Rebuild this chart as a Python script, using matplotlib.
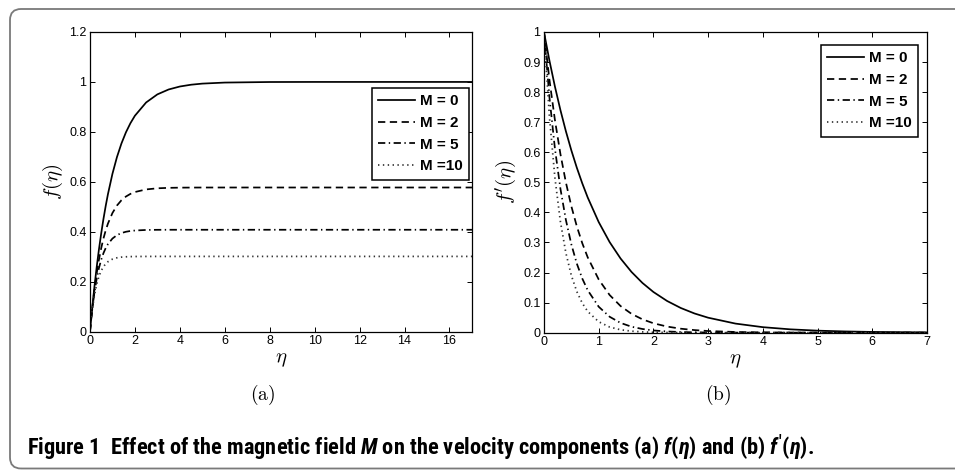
import matplotlib
matplotlib.use('Agg')
import matplotlib.pyplot as plt
from matplotlib.patches import FancyBboxPatch
from matplotlib import font_manager

plt.rcParams['mathtext.fontset'] = 'cm'
plt.rcParams['font.family'] = ['Liberation Sans', 'DejaVu Sans']

# values
eta_a = [0, 0.1, 0.2, 0.3, 0.4, 0.5, 0.6, 0.7, 0.8, 1.0, 1.2, 1.4, 1.6, 1.8, 2.0,
         2.5, 3.0, 3.5, 4.0, 4.5, 5.0, 6.0, 8.0, 10.0, 12.0, 14.0, 17.0]
f_M0 = [0, 0.0952, 0.1813, 0.2592, 0.3297, 0.3935, 0.4512, 0.5034, 0.5507, 0.6321,
        0.6988, 0.7534, 0.7981, 0.8347, 0.8647, 0.9179, 0.9502, 0.9698, 0.9817,
        0.9889, 0.9933, 0.9975, 0.9997, 1.0, 1.0, 1.0, 1.0]
f_M2 = [0, 0.0918, 0.1690, 0.2339, 0.2886, 0.3345, 0.3731, 0.4056, 0.4329, 0.4752,
        0.5051, 0.5263, 0.5412, 0.5518, 0.5593, 0.5697, 0.5742, 0.5760, 0.5768,
        0.5771, 0.5773, 0.5774, 0.5774, 0.5774, 0.5774, 0.5774, 0.5774]
f_M5 = [0, 0.0887, 0.1582, 0.2125, 0.2550, 0.2883, 0.3144, 0.3348, 0.3507, 0.3730,
        0.3867, 0.3950, 0.4002, 0.4033, 0.4052, 0.4074, 0.4080, 0.4082, 0.4082,
        0.4082, 0.4082, 0.4082, 0.4082, 0.4082, 0.4082, 0.4082, 0.4082]
f_M10 = [0, 0.0851, 0.1462, 0.1900, 0.2215, 0.2441, 0.2603, 0.2719, 0.2803, 0.2906,
         0.2959, 0.2986, 0.3000, 0.3007, 0.3011, 0.3014, 0.3015, 0.3015, 0.3015,
         0.3015, 0.3015, 0.3015, 0.3015, 0.3015, 0.3015, 0.3015, 0.3015]

eta_b = [0, 0.1, 0.2, 0.3, 0.4, 0.5, 0.6, 0.7, 0.8, 1.0, 1.2, 1.4, 1.6, 1.8, 2.0,
         2.25, 2.5, 2.75, 3.0, 3.5, 4.0, 4.5, 5.0, 5.5, 6.0, 7.0]
fp_M0 = [1, 0.9048, 0.8187, 0.7408, 0.6703, 0.6065, 0.5488, 0.4966, 0.4493, 0.3679,
         0.3012, 0.2466, 0.2019, 0.1653, 0.1353, 0.1054, 0.0821, 0.0639, 0.0498,
         0.0302, 0.0183, 0.0111, 0.0067, 0.0041, 0.0025, 0.0009]
fp_M2 = [1, 0.8410, 0.7073, 0.5948, 0.5002, 0.4207, 0.3538, 0.2975, 0.2502, 0.1770,
         0.1252, 0.0885, 0.0626, 0.0443, 0.0313, 0.0203, 0.0132, 0.0086, 0.0055,
         0.0023, 0.0010, 0.0004, 0.0002, 0.0001, 0.0, 0.0]
fp_M5 = [1, 0.7827, 0.6126, 0.4795, 0.3753, 0.2938, 0.2299, 0.1800, 0.1409, 0.0863,
         0.0529, 0.0324, 0.0198, 0.0122, 0.0074, 0.0040, 0.0022, 0.0012, 0.0006,
         0.0002, 0.0001, 0.0, 0.0, 0.0, 0.0, 0.0]
fp_M10 = [1, 0.7177, 0.5151, 0.3697, 0.2653, 0.1904, 0.1367, 0.0981, 0.0704, 0.0363,
          0.0187, 0.0096, 0.0050, 0.0026, 0.0013, 0.0006, 0.0003, 0.0001, 0.0,
          0.0, 0.0, 0.0, 0.0, 0.0, 0.0, 0.0]

labels = ['M = 0', 'M = 2', 'M = 5', 'M =10']
styles = [dict(ls='-'), dict(ls=(0, (4.2, 2.6))), dict(ls=(0, (4.2, 2.0, 0.8, 2.0))),
          dict(ls=(0, (0.8, 2.0)), color='#333333')]

# a narrow bold face for the caption, if one is installed
names = {f.name for f in font_manager.fontManager.ttflist}
cap_font = 'DejaVu Sans'
for cand in ['Liberation Sans Narrow', 'Roboto Condensed', 'Open Sans Condensed',
             'Noto Sans Condensed', 'DejaVu Sans Condensed']:
    if cand in names:
        cap_font = cand
        break
plt.rcParams['mathtext.it'] = cap_font + ':italic:bold'
plt.rcParams['mathtext.rm'] = cap_font + ':bold'
plt.rcParams['mathtext.bf'] = cap_font + ':bold'

fig = plt.figure(figsize=(9.55, 4.71), dpi=100)

# rounded frame around the figure (open on the right, like the page crop)
frame = FancyBboxPatch((0.10, 0.025), 10.2, 4.595, boxstyle='round,pad=0,rounding_size=0.11',
                       transform=fig.dpi_scale_trans, fc='none', ec='#7a7a7a', lw=1.3)
fig.patches.append(frame)

ax1 = fig.add_axes([0.0942, 0.2957, 0.4, 0.6364])
ax2 = fig.add_axes([0.5696, 0.2937, 0.4011, 0.6384])


def style_axes(ax):
    ax.tick_params(direction='in', top=True, right=True, length=3.5, width=0.7,
                   labelsize=9, pad=2.5)
    for s in ax.spines.values():
        s.set_linewidth(0.9)


for ys, lab, st in zip([f_M0, f_M2, f_M5, f_M10], labels, styles):
    kw = dict(color='black', lw=1.25)
    kw.update(st)
    ax1.plot(eta_a, ys, label=lab, **kw)
ax1.set_xlim(0, 17)
ax1.set_ylim(0, 1.2)
ax1.set_xticks(range(0, 17, 2))
ax1.set_yticks([0, 0.2, 0.4, 0.6, 0.8, 1.0, 1.2])
ax1.set_yticklabels(['0', '0.2', '0.4', '0.6', '0.8', '1', '1.2'])
style_axes(ax1)
ax1.set_xlabel(r'$\eta$', fontsize=15)
ax1.set_ylabel(r'$f(\eta)$', fontsize=15)
ax1.xaxis.set_label_coords(0.5, -0.06)
ax1.yaxis.set_label_coords(-0.066, 0.5)

for ys, lab, st in zip([fp_M0, fp_M2, fp_M5, fp_M10], labels, styles):
    kw = dict(color='black', lw=1.25)
    kw.update(st)
    ax2.plot(eta_b, ys, label=lab, **kw)
ax2.set_xlim(0, 7)
ax2.set_ylim(0, 1)
ax2.set_xticks(range(0, 8))
ax2.set_yticks([i / 10 for i in range(11)])
ax2.set_yticklabels(['0'] + ['0.%d' % i for i in range(1, 10)] + ['1'])
style_axes(ax2)
ax2.set_xlabel(r'$\eta$', fontsize=15)
ax2.set_ylabel(r"$f'(\eta)$", fontsize=15)
ax2.xaxis.set_label_coords(0.5, -0.06)
ax2.yaxis.set_label_coords(-0.066, 0.5)

leg_kw = dict(loc='upper right', borderaxespad=0, fancybox=False, framealpha=1,
              edgecolor='black', handlelength=2.4, handletextpad=0.3, labelspacing=0.5,
              borderpad=0.42, prop=dict(weight='bold', size=11))
l1 = ax1.legend(bbox_to_anchor=(0.992, 0.813), **leg_kw)
l2 = ax2.legend(bbox_to_anchor=(0.976, 0.957), **leg_kw)
for l in (l1, l2):
    l.get_frame().set_linewidth(1.1)

fig.text(0.2754, 0.1614, r'$\mathrm{(a)}$', fontsize=14, ha='center', va='center')
fig.text(0.7518, 0.1614, r'$\mathrm{(b)}$', fontsize=14, ha='center', va='center')

cap = fig.text(27 / 955, 1 - 447.5 / 471,
               r'Figure 1  Effect of the magnetic field $\mathit{M}$ on the velocity '
               r'components (a) $\mathit{f}\mathrm{(}\mathit{\eta}\mathrm{)}$ and (b) '
               r"$\mathit{f}'\mathrm{(}\mathit{\eta}\mathrm{)}$.",
               family=[cap_font, 'DejaVu Sans'], weight='bold', fontsize=12.5,
               va='center', ha='left', math_fontfamily='custom')

# fit caption width to the reference (about 790 px)
fig.canvas.draw()
w = cap.get_window_extent().width
cap.set_fontsize(12.5 * 790 / w)

fig.savefig('out.png', dpi=100)
